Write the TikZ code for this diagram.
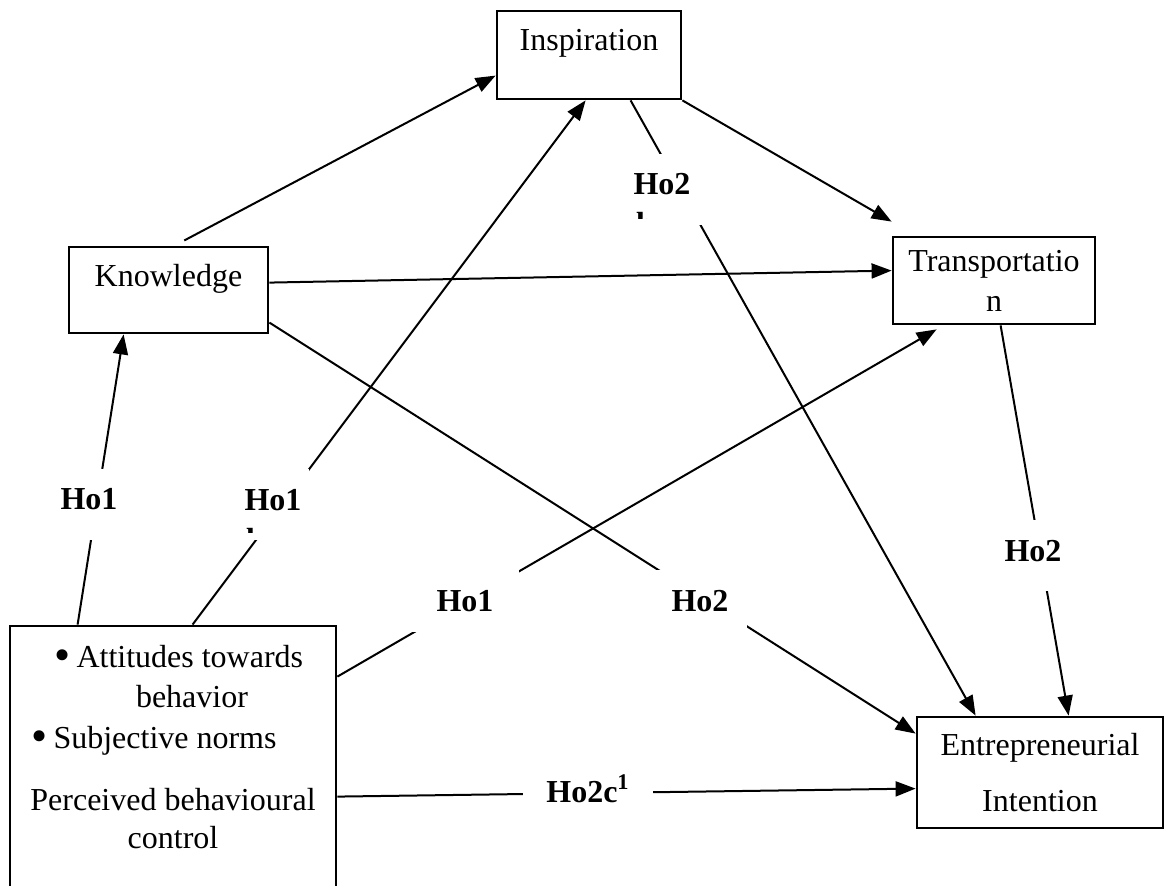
\documentclass[tikz,border=0pt]{standalone}
\usepackage{fontspec}
\setmainfont{Liberation Serif}
\usetikzlibrary{arrows.meta}
\tikzstyle{var-box} = [draw=black, line width=1.4pt, rectangle, inner sep=0pt,
    align=center, font=\fontsize{16pt}{20pt}\selectfont]
\tikzstyle{hyp-label} = [fill=white, inner ysep=0pt, anchor=base,
    font=\fontsize{16pt}{20pt}\selectfont\bfseries]
\tikzstyle{item-text} = [inner sep=0pt, anchor=base, font=\fontsize{16pt}{20pt}\selectfont]
\tikzstyle{path-arrow} = [line width=1pt, -{Triangle[length=10pt,width=7.5pt]}]
\newcommand{\bigbullet}{\raisebox{-1.6pt}{\fontsize{23pt}{23pt}\selectfont\textbullet}}

\begin{document}
\begin{tikzpicture}[x=0.5pt, y=-0.5pt]
\useasboundingbox (0,0) rectangle (1166,886);
\clip (0,0) rectangle (1166,886);

% constructs
\node [var-box, minimum width=92pt, minimum height=44pt] (insp) at (589,55) {Inspiration\\[-5pt]~};
\node [var-box, minimum width=99.5pt, minimum height=43pt] (know) at (168.5,290) {Knowledge\\[-5pt]~};
\node [var-box, minimum width=101pt, minimum height=43.5pt] (trans) at (994,280.5) {Transportatio\\n};
\node [var-box, minimum width=123pt, minimum height=55.5pt] (entr) at (1040,772.5) {Entrepreneurial\\[8pt]Intention};
\node [var-box, minimum width=163pt, minimum height=167pt] (att) at (173,793) {};
\node [item-text, anchor=base west] (att-1) at (54,667) {\bigbullet\hspace{3pt}Attitudes towards};
\node [item-text] (att-2) at (192,707) {behavior};
\node [item-text, anchor=base west] (att-3) at (31,748) {\bigbullet\hspace{3pt}Subjective norms};
\node [item-text] (att-4) at (173,810) {Perceived behavioural};
\node [item-text] (att-5) at (173,848) {control};

% paths
\draw [path-arrow, shorten <=5.5pt] ([xshift=53.5pt]know.north west) -- ([yshift=-33pt]insp.north west);
\draw [path-arrow] ([yshift=-18.5pt]know.north east) -- ([yshift=-17.5pt]trans.north west);
\draw [path-arrow] ([yshift=-38.5pt]know.north east) -- ([yshift=-9pt]entr.north west);
\draw [path-arrow] ([xshift=67.5pt]insp.south west) -- ([xshift=30pt]entr.north west);
\draw [path-arrow] (insp.south east) -- ([yshift=7pt]trans.north west);
\draw [path-arrow] ([xshift=54.5pt]trans.south west) -- ([xshift=76.5pt]entr.north west);
\draw [path-arrow] ([xshift=34.5pt]att.north west) -- ([xshift=28pt]know.south west);
\draw [path-arrow] ([xshift=92pt]att.north west) -- ([xshift=45pt]insp.south west);
\draw [path-arrow] ([yshift=-26pt]att.north east) -- ([xshift=22.5pt,yshift=-2pt]trans.south west);
\draw [path-arrow] ([yshift=-86pt]att.north east) -- ([yshift=-36.5pt]entr.north west);

% hypotheses
\node [hyp-label, text height=20.5pt, text depth=15pt, inner xsep=4pt] (h1a) at (89,510) {Ho1};
\node [hyp-label, text height=21pt, text depth=14.5pt, inner xsep=4pt] (h1b) at (273,511) {Ho1};
\node [hyp-label, text height=21pt, text depth=10.5pt, inner xsep=13pt] (h1c) at (465,611) {Ho1};
\node [hyp-label, text height=20.5pt, text depth=15pt, inner xsep=7pt] (h2a) at (662,195) {Ho2};
\node [hyp-label, text height=20.5pt, text depth=11.5pt, inner xsep=9.5pt] (h2b) at (700,611) {Ho2};
\node [hyp-label, text height=21pt, text depth=14.5pt, inner xsep=3pt] (h2c) at (1033,562) {Ho2};
\node [hyp-label, text height=12pt, text depth=4pt, inner xsep=11.75pt] (h2d) at (588,802) {Ho2c\textsuperscript{1}};
\begin{scope}
\clip (240,520) rectangle (262,533);
\node [hyp-label, fill=none, inner sep=0pt, anchor=base west] (h1b-cut) at (246,551) {b};
\end{scope}
\begin{scope}
\clip (630,206) rectangle (650,219);
\node [hyp-label, fill=none, inner sep=0pt, anchor=base west] (h2a-cut) at (636,235) {b};
\end{scope}
\end{tikzpicture}
\end{document}
